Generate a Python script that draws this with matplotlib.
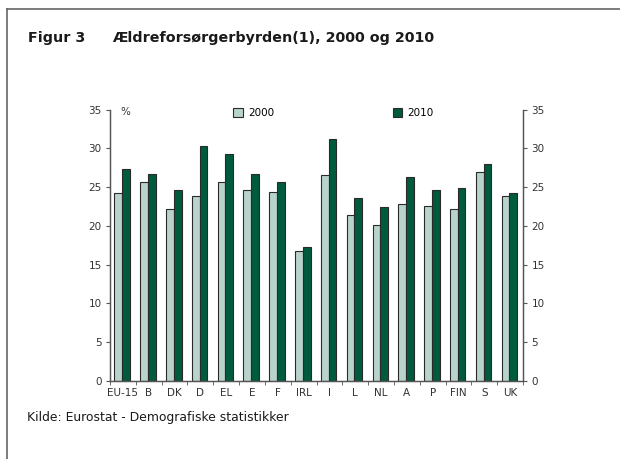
import matplotlib
matplotlib.use("Agg")
import matplotlib.pyplot as plt
import numpy as np
from matplotlib.patches import Patch

countries = ["EU-15", "B", "DK", "D", "EL", "E", "F", "IRL", "I", "L",
             "NL", "A", "P", "FIN", "S", "UK"]
v2000 = [24.2, 25.6, 22.2, 23.8, 25.6, 24.6, 24.4, 16.8, 26.6, 21.4,
         20.1, 22.8, 22.6, 22.2, 26.9, 23.8]
v2010 = [27.3, 26.7, 24.6, 30.3, 29.3, 26.7, 25.6, 17.3, 31.2, 23.6,
         22.4, 26.3, 24.6, 24.9, 28.0, 24.2]
yticks = [0, 5, 10, 15, 20, 25, 30, 35]

c2000 = "#b8d3cb"
c2010 = "#005a3e"
edge = "#2a2a2a"

plt.rcParams.update({"font.family": "DejaVu Sans", "font.size": 7.5})

fig = plt.figure(figsize=(6.2, 4.59), dpi=100)
W, H = 620, 459
ax = fig.add_axes([110 / W, 1 - 380.7 / H, 413 / W, 271 / H])

x = np.arange(len(countries))
bw = 0.3
ax.bar(x - bw / 2 - 0.03, v2000, bw, color=c2000, edgecolor=edge, lw=0.8)
ax.bar(x + bw / 2 - 0.03, v2010, bw, color=c2010, edgecolor=edge, lw=0.8)

ax.set_xlim(-0.5, len(countries) - 0.5)
ax.set_ylim(0, 35)
ax.set_yticks(yticks)
ax.set_xticks(x)
ax.set_xticklabels(countries)
ax.set_xticks(np.arange(-0.5, len(countries)), minor=True)
ax.tick_params(axis="x", which="major", length=0, pad=5, colors="#333333")
ax.tick_params(axis="x", which="minor", length=3, direction="out", color="#555555")
ax.tick_params(axis="y", length=3, color="#555555", labelcolor="#333333", pad=3)

ax2 = ax.twinx()
ax2.set_ylim(0, 35)
ax2.set_yticks(yticks)
ax2.tick_params(axis="y", length=3, color="#555555", labelcolor="#333333", pad=3)

for a in (ax, ax2):
    a.spines["top"].set_visible(False)
    for s in ("left", "right", "bottom"):
        a.spines[s].set_color("#555555")
        a.spines[s].set_linewidth(0.9)

ax.text(0.025, 0.99, "%", transform=ax.transAxes, va="center", ha="left",
        color="#333333")

handles = [Patch(facecolor=c2000, edgecolor=edge, lw=0.8, label="2000"),
           Patch(facecolor=c2010, edgecolor=edge, lw=0.8, label="2010")]
ax.legend(handles=handles, ncol=2, frameon=False, loc="upper left",
          bbox_to_anchor=(0.276, 1.04), handlelength=0.9, handleheight=0.9,
          handletextpad=0.5, columnspacing=11.4)

# frame lines around the figure
fig.add_artist(plt.Line2D([7 / W, 7 / W], [0, 1 - 9 / H], color="#666666", lw=1.2))
fig.add_artist(plt.Line2D([7 / W, 1], [1 - 9 / H, 1 - 9 / H], color="#666666", lw=1.2))

fig.text(28 / W, 1 - 38 / H, "Figur 3", fontsize=10.3, fontweight="bold",
         va="center", color="#1a1a1a")
fig.text(112 / W, 1 - 38 / H, "Ældreforsørgerbyrden(1), 2000 og 2010",
         fontsize=10.3, fontweight="bold", va="center", color="#1a1a1a")
fig.text(27 / W, 1 - 417 / H, "Kilde: Eurostat - Demografiske statistikker",
         fontsize=8.9, va="center", color="#1a1a1a")

fig.savefig("out.png", dpi=100)
